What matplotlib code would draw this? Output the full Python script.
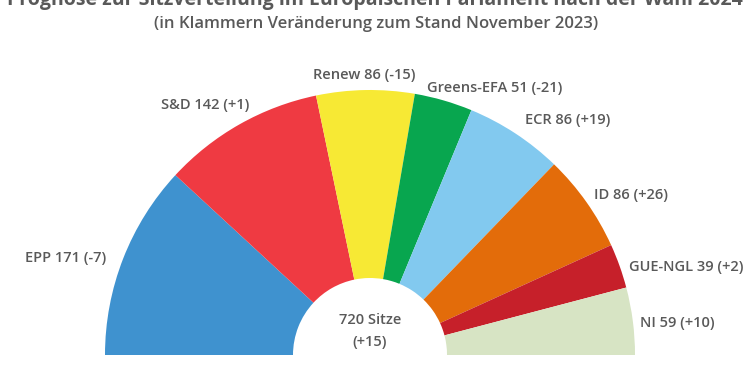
import matplotlib
matplotlib.use("Agg")
import matplotlib.pyplot as plt

# Sitzverteilung (Prognose), von links nach rechts
parties = ["EPP", "S&D", "Renew", "Greens-EFA", "ECR", "ID", "GUE-NGL", "NI"]
seats = [171, 142, 86, 51, 86, 86, 39, 59]
changes = ["-7", "+1", "-15", "-21", "+19", "+26", "+2", "+10"]
colors = ["#3F92CF", "#EF3A42", "#F7E934", "#08A64F", "#82C9EF", "#E36C0A", "#C6202A", "#D7E4C4"]
total_seats = 720
total_change = "+15"

# label positions in pixel coords (x, y from top)
label_pos = [(66, 258), (205, 105), (364, 75), (495, 88), (568, 120),
             (631, 195), (686, 267), (677, 323)]

txt_col = "#595959"
plt.rcParams['font.family'] = ['Open Sans', 'DejaVu Sans']

fig = plt.figure(figsize=(7.5, 3.75), dpi=100)
ax = fig.add_axes([0, 0, 1, 1])

cx, cy = 370, 375 - 355
r_out, r_in = 265, 77
# hidden slice = lower half of the circle
ax.pie(seats + [sum(seats)], colors=colors + ["none"], startangle=180,
       counterclock=False, radius=r_out, center=(cx, cy),
       wedgeprops=dict(width=r_out - r_in, linewidth=0))

ax.set_xlim(0, 750)
ax.set_ylim(0, 375)
ax.set_aspect("equal")
ax.axis("off")

for p, s, c, (x, y) in zip(parties, seats, changes, label_pos):
    ax.text(x, 375 - y, f"{p} {s} ({c})", ha="center", va="center",
            fontsize=10.5, fontweight="semibold", color=txt_col)

ax.text(cx, 375 - 320, f"{total_seats} Sitze", ha="center", va="center",
        fontsize=10.5, fontweight="semibold", color=txt_col)
ax.text(cx, 375 - 342, f"({total_change})", ha="center", va="center",
        fontsize=10.5, fontweight="semibold", color=txt_col)

ax.text(375, 375 - 0, "Prognose zur Sitzverteilung im Europäischen Parlament nach der Wahl 2024",
        ha="center", va="center", fontsize=14, fontweight="bold", color=txt_col)
ax.text(376, 375 - 24, "(in Klammern Veränderung zum Stand November 2023)",
        ha="center", va="center", fontsize=12, fontweight="semibold", color=txt_col)

fig.savefig("out.png", dpi=100)
